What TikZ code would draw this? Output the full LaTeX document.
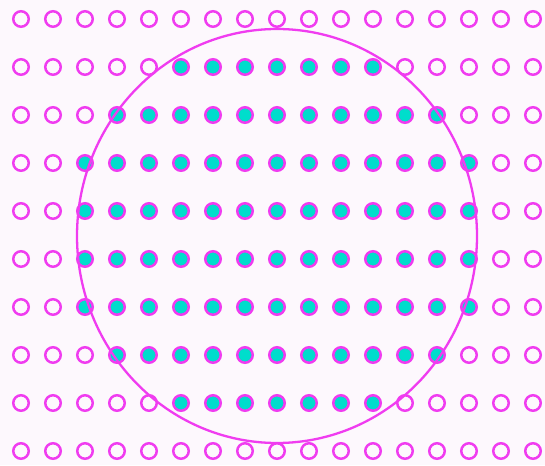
\documentclass[tikz,border=0pt]{standalone}
\definecolor{bg}{HTML}{FDF8FD}
\definecolor{mag}{HTML}{F03CF0}
\definecolor{cy}{HTML}{00DDCC}
\begin{document}
\begin{tikzpicture}[x=1pt,y=-1pt,
  dot/.style={circle,draw=mag,line width=2.5pt,minimum size=15.5pt,inner sep=0pt},
  full/.style={dot,fill=cy}]
\fill[bg] (0,0) rectangle (545,465);
\useasboundingbox (0,0) rectangle (545,465);
\foreach \r/\lo/\hi in {0/99/-1,1/5/11,2/3/13,3/2/14,4/2/14,5/2/14,6/2/14,7/3/13,8/5/11,9/99/-1}{
  \foreach \c in {0,...,16}{
    \pgfmathtruncatemacro{\isin}{(\c>=\lo)&&(\c<=\hi)}
    \ifnum\isin=1
      \node[full] (d\r-\c) at ({21+32*\c},{19+48*\r}) {};
    \else
      \node[dot] (d\r-\c) at ({21+32*\c},{19+48*\r}) {};
    \fi
  }
}
\draw[mag,line width=2.3pt] (277,236) ellipse [x radius=200, y radius=207];
\end{tikzpicture}
\end{document}
